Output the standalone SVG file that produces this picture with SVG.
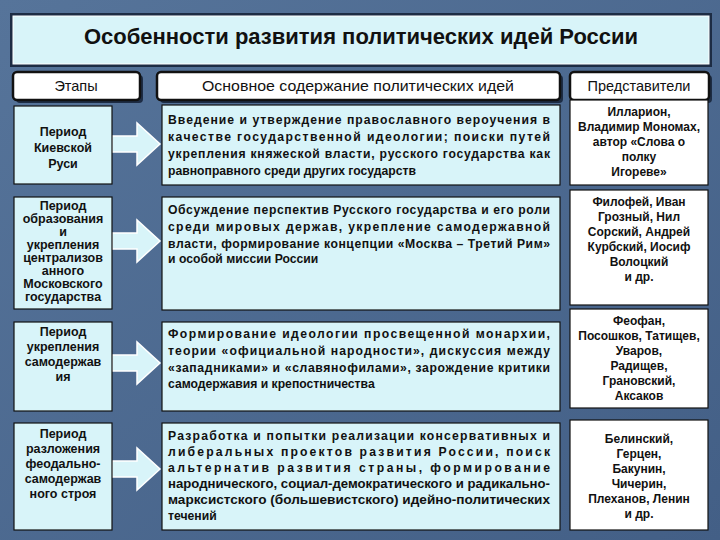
<svg xmlns="http://www.w3.org/2000/svg" width="720" height="540" viewBox="0 0 720 540">
<style>
text{font-family:"Liberation Sans",Arial,sans-serif;font-weight:bold;fill:#111}
.lb{fill:#d8f4f9;stroke:#111;stroke-width:1.2}
.wb{fill:#fff;stroke:#111;stroke-width:1.2}
.hd{fill:#fff;stroke:#111;stroke-width:2.5}
.ar{fill:#d8f4f9;stroke:#fff;stroke-width:1.5}
.l{font-size:12.5px;text-anchor:middle}
.m{font-size:12.2px}
.r{font-size:12px;text-anchor:middle}
.h{font-size:14.5px;text-anchor:middle;font-weight:normal}
</style>
<defs>
<linearGradient id="bg" x1="0" y1="0" x2="1" y2="1"><stop offset="0" stop-color="#56749a"/><stop offset="1" stop-color="#435f86"/></linearGradient>
</defs>
<rect width="720" height="540" fill="url(#bg)"/>
<g id="title">
<rect x="10" y="13" width="702" height="54" fill="#1d2c44"/>
<rect x="13" y="16" width="696" height="48" fill="#d8f4f9" stroke="#fff" stroke-width="1"/>
<text x="361" y="44" font-size="22" text-anchor="middle">Особенности развития политических идей России</text>
</g>
<g id="headers">
<rect x="16" y="75" width="127" height="28" rx="4" fill="#1d2c44"/>
<rect x="13" y="72" width="127" height="28" rx="4" class="hd"/>
<text x="76" y="91" class="h">Этапы</text>
<rect x="160" y="75" width="403" height="28" rx="4" fill="#1d2c44"/>
<rect x="157" y="72" width="403" height="28" rx="4" class="hd"/>
<text x="358" y="91" class="h" textLength="312" lengthAdjust="spacingAndGlyphs">Основное содержание политических идей</text>
<rect x="573" y="75" width="139" height="28" rx="4" fill="#1d2c44"/>
<rect x="570" y="72" width="139" height="28" rx="4" class="hd"/>
<text x="639" y="91" class="h">Представители</text>
</g>
<g id="connectors">
<path class="ar" d="M112,136 H137 V123 L160,144 L137,165 V152 H112 Z"/>
<path class="ar" d="M112,233 H137 V220 L160,241 L137,262 V249 H112 Z"/>
<path class="ar" d="M112,355 H137 V342 L160,363 L137,384 V371 H112 Z"/>
<path class="ar" d="M112,461 H137 V448 L160,469 L137,490 V477 H112 Z"/>
</g>
<g id="row1">
<rect x="14" y="106" width="98" height="78" class="lb"/>
<text class="l" x="63" y="136">Период</text><text class="l" x="63" y="152">Киевской</text><text class="l" x="63" y="168">Руси</text>
<rect x="162" y="105" width="398" height="80" class="lb"/>
<text class="m" x="168" y="124" textLength="382" lengthAdjust="spacing">Введение и утверждение православного вероучения в</text>
<text class="m" x="168" y="141" textLength="382" lengthAdjust="spacing">качестве государственной идеологии; поиски путей</text>
<text class="m" x="168" y="158" textLength="382" lengthAdjust="spacing">укрепления княжеской власти, русского государства как</text>
<text class="m" x="168" y="175">равноправного среди других государств</text>
<rect x="570" y="100" width="138" height="85" class="wb"/>
<text class="r" x="639" y="116">Илларион,</text><text class="r" x="639" y="131">Владимир Мономах,</text><text class="r" x="639" y="146">автор «Слова о</text><text class="r" x="639" y="161">полку</text><text class="r" x="639" y="176">Игореве»</text>
</g>
<g id="row2">
<rect x="14" y="197" width="98" height="112" class="lb"/>
<text class="l" x="63" y="210">Период</text><text class="l" x="63" y="223">образования</text><text class="l" x="63" y="236">и</text><text class="l" x="63" y="249">укрепления</text><text class="l" x="63" y="262">централизов</text><text class="l" x="63" y="275">анного</text><text class="l" x="63" y="288">Московского</text><text class="l" x="63" y="301">государства</text>
<rect x="162" y="197" width="398" height="113" class="lb"/>
<text class="m" x="168" y="214" textLength="382" lengthAdjust="spacing">Обсуждение перспектив Русского государства и его роли</text>
<text class="m" x="168" y="231" textLength="382" lengthAdjust="spacing">среди мировых держав, укрепление самодержавной</text>
<text class="m" x="168" y="248" textLength="382" lengthAdjust="spacing">власти, формирование концепции «Москва – Третий Рим»</text>
<text class="m" x="168" y="263">и особой миссии России</text>
<rect x="570" y="190" width="138" height="115" class="wb"/>
<text class="r" x="639" y="206">Филофей, Иван</text><text class="r" x="639" y="221">Грозный, Нил</text><text class="r" x="639" y="236">Сорский, Андрей</text><text class="r" x="639" y="251">Курбский, Иосиф</text><text class="r" x="639" y="266">Волоцкий</text><text class="r" x="639" y="281">и др.</text>
</g>
<g id="row3">
<rect x="14" y="322" width="98" height="89" class="lb"/>
<text class="l" x="63" y="336">Период</text><text class="l" x="63" y="351">укрепления</text><text class="l" x="63" y="366">самодержав</text><text class="l" x="63" y="381">ия</text>
<rect x="162" y="322" width="398" height="89" class="lb"/>
<text class="m" x="168" y="338" textLength="382" lengthAdjust="spacing">Формирование идеологии просвещенной монархии,</text>
<text class="m" x="168" y="355" textLength="382" lengthAdjust="spacing">теории «официальной народности», дискуссия между</text>
<text class="m" x="168" y="372" textLength="382" lengthAdjust="spacing">«западниками» и «славянофилами», зарождение критики</text>
<text class="m" x="168" y="388">самодержавия и крепостничества</text>
<rect x="570" y="309" width="138" height="99" class="wb"/>
<text class="r" x="639" y="325">Феофан,</text><text class="r" x="639" y="340">Посошков, Татищев,</text><text class="r" x="639" y="355">Уваров,</text><text class="r" x="639" y="370">Радищев,</text><text class="r" x="639" y="385">Грановский,</text><text class="r" x="639" y="400">Аксаков</text>
</g>
<g id="row4">
<rect x="14" y="423" width="98" height="107" class="lb"/>
<text class="l" x="63" y="438">Период</text><text class="l" x="63" y="453">разложения</text><text class="l" x="63" y="468">феодально-</text><text class="l" x="63" y="483">самодержав</text><text class="l" x="63" y="498">ного строя</text>
<rect x="162" y="423" width="398" height="107" class="lb"/>
<text class="m" x="168" y="440" textLength="382" lengthAdjust="spacing">Разработка и попытки реализации консервативных и</text>
<text class="m" x="168" y="456" textLength="382" lengthAdjust="spacing">либеральных проектов развития России, поиск</text>
<text class="m" x="168" y="472" textLength="382" lengthAdjust="spacing">альтернатив развития страны, формирование</text>
<text class="m" x="168" y="488" textLength="382" lengthAdjust="spacingAndGlyphs">народнического, социал-демократического и радикально-</text>
<text class="m" x="168" y="504" textLength="382" lengthAdjust="spacingAndGlyphs">марксистского (большевистского) идейно-политических</text>
<text class="m" x="168" y="520">течений</text>
<rect x="570" y="420" width="138" height="110" class="wb"/>
<text class="r" x="639" y="443">Белинский,</text><text class="r" x="639" y="458">Герцен,</text><text class="r" x="639" y="473">Бакунин,</text><text class="r" x="639" y="488">Чичерин,</text><text class="r" x="639" y="503">Плеханов, Ленин</text><text class="r" x="639" y="518">и др.</text>
</g>
</svg>
